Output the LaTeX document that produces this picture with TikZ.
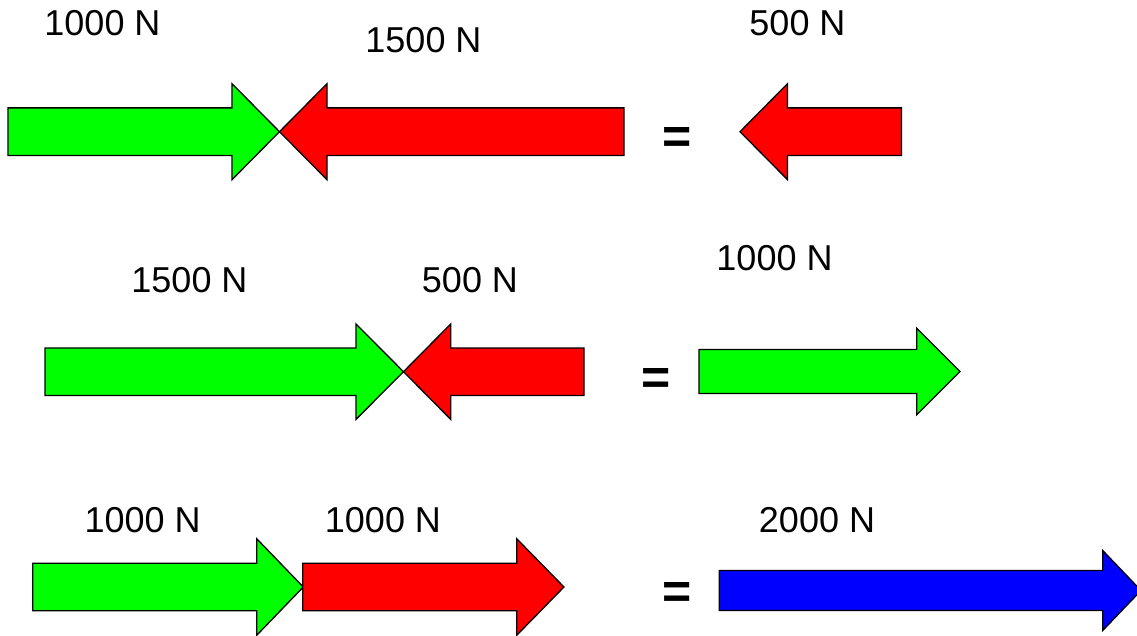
\documentclass[tikz,border=0pt]{standalone}
\usepackage{fontspec}
\setmainfont{Liberation Sans}
\usetikzlibrary{calc}

% block arrow: colour, tail x, head base x, tip x, centre y, half shaft, half head
\newcommand{\forcearrow}[7]{%
  \filldraw[force, fill=#1] (#2,{#5-#6}) -- (#3,{#5-#6}) -- (#3,{#5-#7}) -- (#4,#5)
    -- (#3,{#5+#7}) -- (#3,{#5+#6}) -- (#2,{#5+#6}) -- cycle;}

\begin{document}
\begin{tikzpicture}
[x=1pt, y=-1pt,
    force/.style={draw=black, line width=1.3pt, line join=miter},
    every node/.style={inner sep=0pt},
    forcelabel/.style={font=\fontsize{36}{40}\selectfont, anchor=base},
    equals/.style={font=\fontsize{50}{50}\selectfont\bfseries}]
    \useasboundingbox (0,0) rectangle (1137,636);
    % first row
    \forcearrow{green}{8}{232}{279.5}{131.7}{23.8}{48}
    \forcearrow{red}{624}{327}{279.5}{131.7}{23.8}{48}
    \forcearrow{red}{901.5}{787.5}{740}{131.7}{23.8}{48}
    \node[forcelabel] (ga) at (102.5,36) {1000 N};
    \node[forcelabel] (ra) at (423.5,53) {1500 N};
    \node[forcelabel] (sa) at (797.5,36) {500 N};
    \node[equals] (eqa) at (677.5,141) {=};
    % second row
    \forcearrow{green}{45}{356}{403.5}{371.7}{23.7}{47.7}
    \forcearrow{red}{584}{450.7}{403.5}{371.7}{23.7}{47.7}
    \forcearrow{green}{699}{916.7}{960}{371.5}{22}{43.3}
    \node[forcelabel] (gb) at (189.5,292) {1500 N};
    \node[forcelabel] (rb) at (470,292) {500 N};
    \node[forcelabel] (sb) at (774.5,271) {1000 N};
    \node[equals] (eqb) at (656.5,381) {=};
    % third row
    \forcearrow{green}{32.7}{256.7}{303.3}{587}{23.7}{48.3}
    \forcearrow{red}{302.7}{516.7}{564}{587}{23.7}{48.3}
    \forcearrow{blue}{719.3}{1102.7}{1141}{590.5}{20}{40}
    \node[forcelabel] (gc) at (142.7,532) {1000 N};
    \node[forcelabel] (rc) at (383,532) {1000 N};
    \node[forcelabel] (sc) at (817,532) {2000 N};
    \node[equals] (eqc) at (677.5,595) {=};
\end{tikzpicture}
\end{document}
